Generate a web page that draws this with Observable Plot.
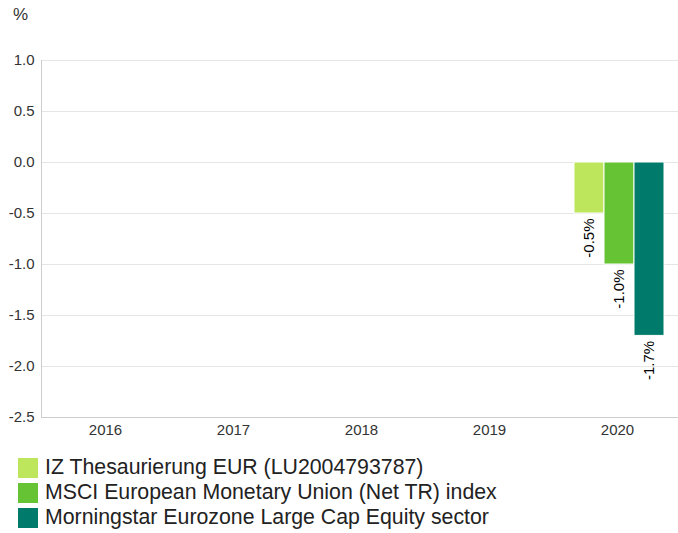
<!DOCTYPE html>
<html>
<head>
<meta charset="utf-8">
<script src="https://cdn.jsdelivr.net/npm/d3@7"></script>
<script src="https://cdn.jsdelivr.net/npm/@observablehq/plot@0.6"></script>
<style>
  body { margin: 0; background: #fff; font-family: "Liberation Sans", Arial, sans-serif; overflow: hidden; }
  #wrap { position: relative; width: 678px; height: 533px; overflow: hidden; }
  #chart svg { max-width: none !important; }
  #unit { position: absolute; left: 13px; top: 5px; font-size: 17px; color: #333; }
  #legend { position: absolute; left: 18px; top: 455px; }
  .item { display: flex; align-items: center; height: 25px; font-size: 21.3px; color: #222; }
  .sw { width: 20px; height: 20px; margin-right: 7px; flex: none; }
</style>
</head>
<body>
<div id="wrap">
  <div id="chart"></div>
  <div id="unit">%</div>
  <div id="legend"></div>
</div>
<script>
const years = ["2016", "2017", "2018", "2019", "2020"];
const series = [
  "IZ Thesaurierung EUR (LU2004793787)",
  "MSCI European Monetary Union (Net TR) index",
  "Morningstar Eurozone Large Cap Equity sector"
];
const colors = ["#bde65c", "#66c334", "#007a6b"];
const fundValues = [null, null, null, null, -0.5];
const indexValues = [null, null, null, null, -1.0];
const sectorValues = [null, null, null, null, -1.7];
const yTicks = [1.0, 0.5, 0.0, -0.5, -1.0, -1.5, -2.0, -2.5];

const valuesBySeries = [fundValues, indexValues, sectorValues];
const data = [];
years.forEach((yr, j) => {
  series.forEach((s, i) => data.push({ year: yr, series: s, value: valuesBySeries[i][j] }));
});
const labelled = data.filter(d => d.value != null);

const chart = Plot.plot({
  width: 681,
  height: 440,
  marginTop: 60,
  marginLeft: 40,
  marginRight: 0,
  marginBottom: 23,
  style: { fontFamily: "'Liberation Sans', Arial, sans-serif", fontSize: "15px", color: "#333", background: "#fff", maxWidth: "none" },
  fx: { domain: years, padding: 0, label: null },
  x: { domain: series, axis: null, paddingInner: 0, paddingOuter: 0.61, align: 0.55 },
  y: { domain: [-2.5, 1.0], label: null },
  color: { domain: series, range: colors },
  marks: [
    Plot.gridY(yTicks, { stroke: "#e6e6e6", strokeOpacity: 1 }),
    Plot.axisY(yTicks, { tickSize: 0, tickPadding: 7, tickFormat: d => d.toFixed(1), label: null, fill: "#333", fontSize: 15 }),
    Plot.axisFx({ anchor: "bottom", tickSize: 0, tickPadding: 7, label: null, fill: "#333", fontSize: 15 }),
    Plot.ruleY([-2.5], { stroke: "#ccc" }),
    Plot.frame({ anchor: "left", facetAnchor: "left", stroke: "#ccc" }),
    Plot.barY(data, { fx: "year", x: "series", y: "value", fill: "series", stroke: "#fff", strokeWidth: 1 }),
    Plot.text(labelled, {
      fx: "year", x: "series", y: "value",
      text: d => d.value.toFixed(1) + "%",
      rotate: -90, textAnchor: "end", dy: 5, fontSize: 15, fill: "#000"
    })
  ]
});
chart.style.maxWidth = "none";
document.getElementById("chart").appendChild(chart);

const legend = document.getElementById("legend");
series.forEach((s, i) => {
  const item = document.createElement("div");
  item.className = "item";
  const sw = document.createElement("div");
  sw.className = "sw";
  sw.style.background = colors[i];
  const label = document.createElement("span");
  label.textContent = s;
  item.appendChild(sw);
  item.appendChild(label);
  legend.appendChild(item);
});
</script>
</body>
</html>
